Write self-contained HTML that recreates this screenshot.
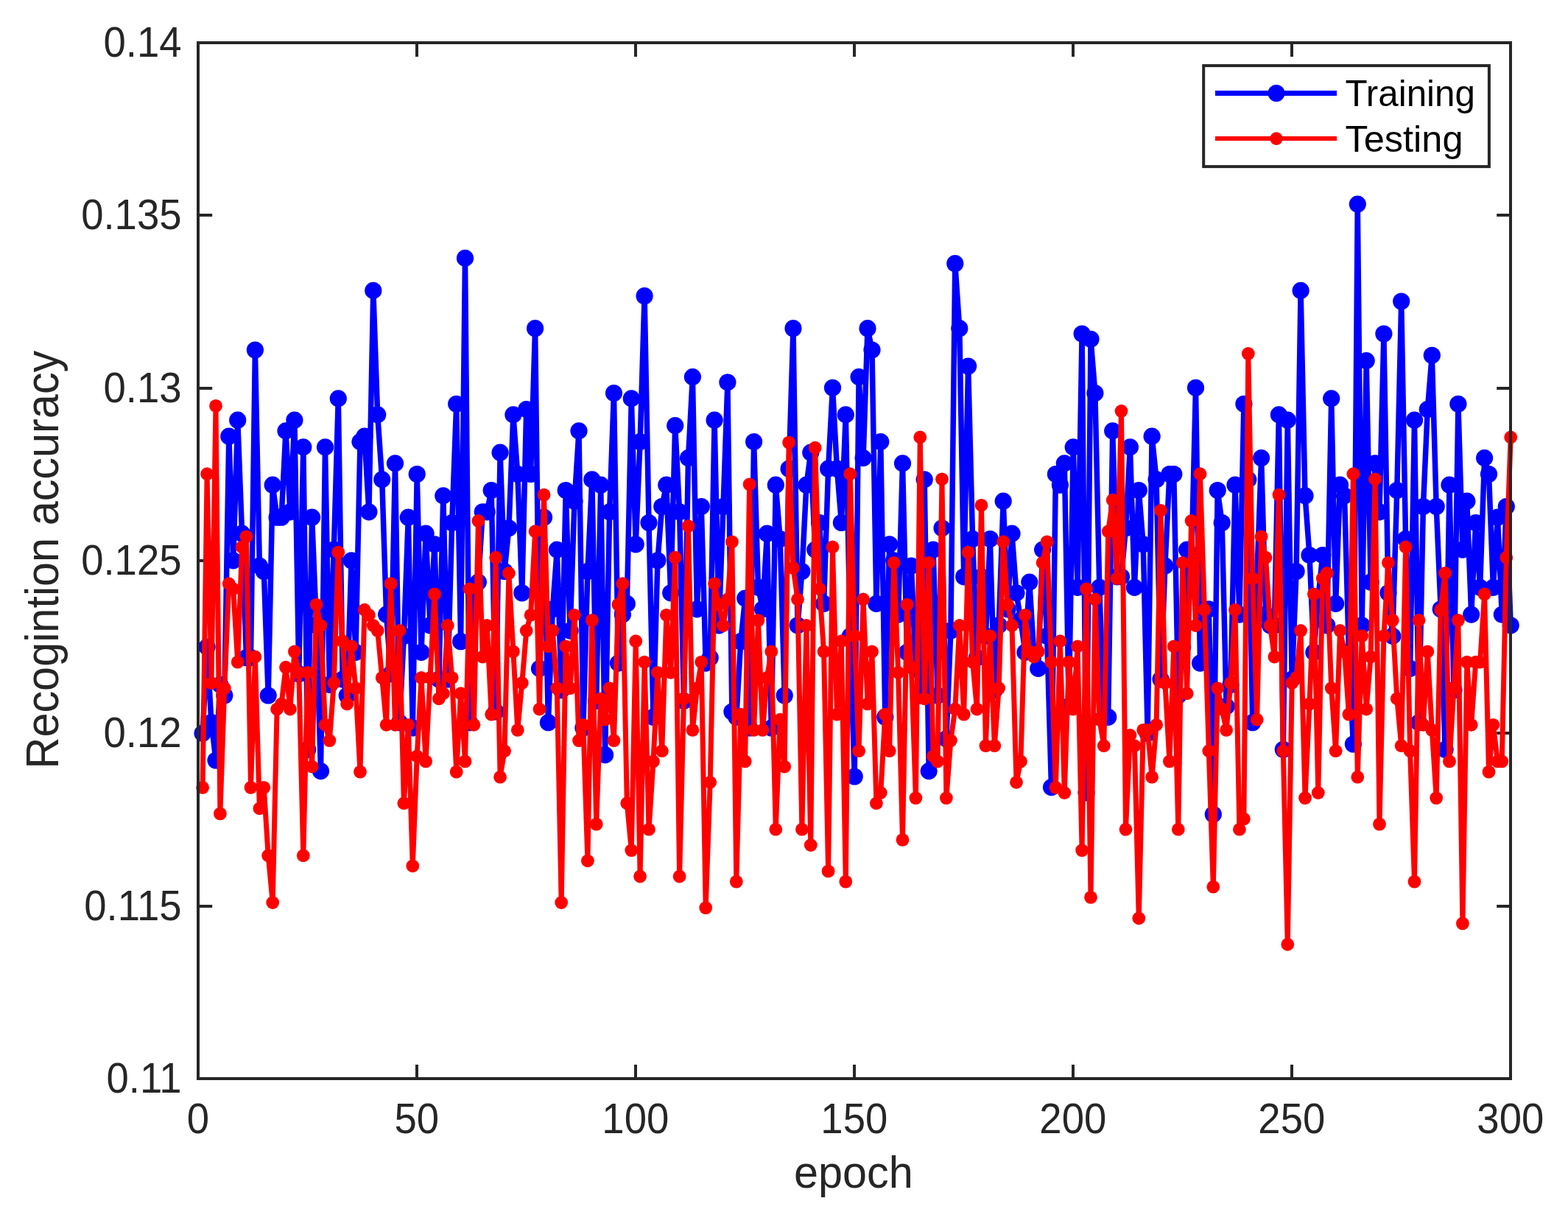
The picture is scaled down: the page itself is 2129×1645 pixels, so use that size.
<!DOCTYPE html>
<html lang="en"><head><meta charset="utf-8"><title>Recognition accuracy vs epoch</title>
<style>html,body{margin:0;padding:0;background:#fff}body{width:2129px;height:1645px;overflow:hidden}svg{display:block}text{font-family:"Liberation Sans",Arial,Helvetica,sans-serif}</style></head><body>
<svg width="2129" height="1645" viewBox="0 0 2129 1645">
<rect x="0" y="0" width="2129" height="1645" fill="#fff"/>
<path d="M566.0 1464.0v-19.0M566.0 58.1v19.0M863.0 1464.0v-19.0M863.0 58.1v19.0M1160.0 1464.0v-19.0M1160.0 58.1v19.0M1457.0 1464.0v-19.0M1457.0 58.1v19.0M1754.0 1464.0v-19.0M1754.0 58.1v19.0M269.2 1230.0h19.0M2051.2 1230.0h-19.0M269.2 995.0h19.0M2051.2 995.0h-19.0M269.2 761.0h19.0M2051.2 761.0h-19.0M269.2 527.0h19.0M2051.2 527.0h-19.0M269.2 292.0h19.0M2051.2 292.0h-19.0" stroke="#262626" stroke-width="4" fill="none"/>
<g><polyline points="275.1,995.3 281.1,878.1 287.0,980.7 293.0,1032.0 298.9,929.4 304.8,944.0 310.8,592.2 316.7,760.8 322.7,570.2 328.6,724.2 334.5,892.7 340.5,892.7 346.4,475.0 352.4,768.1 358.3,775.5 364.2,944.0 370.2,658.2 376.1,702.2 382.1,702.2 388.0,584.9 393.9,694.8 399.9,570.2 405.8,914.7 411.8,606.9 417.7,1017.3 423.6,702.2 429.6,848.8 435.5,1046.6 441.5,606.9 447.4,929.4 453.3,746.1 459.3,540.9 465.2,922.0 471.2,944.0 477.1,760.8 483.0,885.4 489.0,599.6 494.9,592.2 500.9,694.8 506.8,394.4 512.7,562.9 518.7,650.9 524.6,834.1 530.6,914.7 536.5,628.9 542.4,980.7 548.4,863.4 554.3,702.2 560.3,988.0 566.2,643.5 572.1,885.4 578.1,724.2 584.0,848.8 590.0,738.8 595.9,922.0 601.8,672.9 607.8,922.0 613.7,709.5 619.7,548.3 625.6,870.7 631.5,350.4 637.5,980.7 643.4,804.8 649.4,790.1 655.3,694.8 661.2,694.8 667.2,665.5 673.1,966.0 679.1,614.2 685.0,775.5 690.9,716.8 696.9,562.9 702.8,643.5 708.8,804.8 714.7,555.6 720.6,643.5 726.6,445.7 732.5,907.4 738.5,702.2 744.4,980.7 750.3,826.8 756.3,746.1 762.2,936.7 768.2,665.5 774.1,856.1 780.0,680.2 786.0,584.9 791.9,988.0 797.9,775.5 803.8,650.9 809.7,951.4 815.7,658.2 821.6,1024.6 827.6,694.8 833.5,533.6 839.4,900.1 845.4,834.1 851.3,819.4 857.3,540.9 863.2,738.8 869.1,599.6 875.1,401.7 881.0,709.5 887.0,973.3 892.9,760.8 898.8,687.5 904.8,658.2 910.7,804.8 916.7,577.6 922.6,694.8 928.5,951.4 934.5,621.6 940.4,511.6 946.4,826.8 952.3,687.5 958.2,900.1 964.2,892.7 970.1,570.2 976.1,848.8 982.0,687.5 987.9,518.9 993.9,966.0 999.8,973.3 1005.8,870.7 1011.7,812.1 1017.6,988.0 1023.6,599.6 1029.5,797.4 1035.5,826.8 1041.4,724.2 1047.3,988.0 1053.3,658.2 1059.2,731.5 1065.2,944.0 1071.1,636.2 1077.0,445.7 1083.0,848.8 1088.9,775.5 1094.9,658.2 1100.8,614.2 1106.7,746.1 1112.7,709.5 1118.6,819.4 1124.6,636.2 1130.5,526.3 1136.4,636.2 1142.4,709.5 1148.3,562.9 1154.3,863.4 1160.2,1054.0 1166.1,511.6 1172.1,621.6 1178.0,445.7 1184.0,475.0 1189.9,819.4 1195.8,599.6 1201.8,973.3 1207.7,738.8 1213.7,760.8 1219.6,834.1 1225.5,628.9 1231.5,885.4 1237.4,768.1 1243.4,907.4 1249.3,944.0 1255.2,650.9 1261.2,1046.6 1267.1,746.1 1273.1,944.0 1279.0,716.8 1284.9,1002.7 1290.9,856.1 1296.8,357.7 1302.8,445.7 1308.7,782.8 1314.6,497.0 1320.6,731.5 1326.5,892.7 1332.5,782.8 1338.4,863.4 1344.3,731.5 1350.3,936.7 1356.2,848.8 1362.2,680.2 1368.1,826.8 1374.0,724.2 1380.0,804.8 1385.9,841.4 1391.9,885.4 1397.8,790.1 1403.7,885.4 1409.7,907.4 1415.6,746.1 1421.6,863.4 1427.5,1068.6 1433.4,643.5 1439.4,658.2 1445.3,628.9 1451.3,958.7 1457.2,606.9 1463.1,797.4 1469.1,453.0 1475.0,1076.0 1481.0,460.3 1486.9,533.6 1492.8,797.4 1498.8,973.3 1504.7,973.3 1510.7,584.9 1516.6,782.8 1522.5,782.8 1528.5,716.8 1534.4,606.9 1540.4,797.4 1546.3,665.5 1552.2,738.8 1558.2,995.3 1564.1,592.2 1570.1,650.9 1576.0,922.0 1581.9,768.1 1587.9,643.5 1593.8,643.5 1599.8,944.0 1605.7,878.1 1611.6,746.1 1617.6,768.1 1623.5,526.3 1629.5,900.1 1635.4,826.8 1641.3,826.8 1647.3,1105.3 1653.2,665.5 1659.2,709.5 1665.1,958.7 1671.0,929.4 1677.0,658.2 1682.9,834.1 1688.9,548.3 1694.8,650.9 1700.7,980.7 1706.7,782.8 1712.6,621.6 1718.6,834.1 1724.5,848.8 1730.4,848.8 1736.4,562.9 1742.3,1017.3 1748.3,570.2 1754.2,922.0 1760.1,775.5 1766.1,394.4 1772.0,672.9 1778.0,753.5 1783.9,885.4 1789.8,812.1 1795.8,753.5 1801.7,848.8 1807.7,540.9 1813.6,819.4 1819.5,658.2 1825.5,672.9 1831.4,885.4 1837.4,1010.0 1843.3,277.1 1849.2,848.8 1855.2,489.6 1861.1,790.1 1867.1,628.9 1873.0,694.8 1878.9,453.0 1884.9,804.8 1890.8,863.4 1896.8,665.5 1902.7,409.0 1908.6,731.5 1914.6,907.4 1920.5,570.2 1926.5,980.7 1932.4,687.5 1938.3,555.6 1944.3,482.3 1950.2,687.5 1956.2,826.8 1962.1,1017.3 1968.0,658.2 1974.0,936.7 1979.9,548.3 1985.9,746.1 1991.8,680.2 1997.7,834.1 2003.7,709.5 2009.6,797.4 2015.6,621.6 2021.5,643.5 2027.4,797.4 2033.4,702.2 2039.3,834.1 2045.3,687.5 2051.2,848.8" fill="none" stroke="#0000ff" stroke-width="7.5" stroke-linejoin="round" stroke-linecap="butt"/>
<circle cx="275.1" cy="995.3" r="11.6" fill="#0000ff"/>
<circle cx="281.1" cy="878.1" r="11.6" fill="#0000ff"/>
<circle cx="287.0" cy="980.7" r="11.6" fill="#0000ff"/>
<circle cx="293.0" cy="1032.0" r="11.6" fill="#0000ff"/>
<circle cx="298.9" cy="929.4" r="11.6" fill="#0000ff"/>
<circle cx="304.8" cy="944.0" r="11.6" fill="#0000ff"/>
<circle cx="310.8" cy="592.2" r="11.6" fill="#0000ff"/>
<circle cx="316.7" cy="760.8" r="11.6" fill="#0000ff"/>
<circle cx="322.7" cy="570.2" r="11.6" fill="#0000ff"/>
<circle cx="328.6" cy="724.2" r="11.6" fill="#0000ff"/>
<circle cx="334.5" cy="892.7" r="11.6" fill="#0000ff"/>
<circle cx="340.5" cy="892.7" r="11.6" fill="#0000ff"/>
<circle cx="346.4" cy="475.0" r="11.6" fill="#0000ff"/>
<circle cx="352.4" cy="768.1" r="11.6" fill="#0000ff"/>
<circle cx="358.3" cy="775.5" r="11.6" fill="#0000ff"/>
<circle cx="364.2" cy="944.0" r="11.6" fill="#0000ff"/>
<circle cx="370.2" cy="658.2" r="11.6" fill="#0000ff"/>
<circle cx="376.1" cy="702.2" r="11.6" fill="#0000ff"/>
<circle cx="382.1" cy="702.2" r="11.6" fill="#0000ff"/>
<circle cx="388.0" cy="584.9" r="11.6" fill="#0000ff"/>
<circle cx="393.9" cy="694.8" r="11.6" fill="#0000ff"/>
<circle cx="399.9" cy="570.2" r="11.6" fill="#0000ff"/>
<circle cx="405.8" cy="914.7" r="11.6" fill="#0000ff"/>
<circle cx="411.8" cy="606.9" r="11.6" fill="#0000ff"/>
<circle cx="417.7" cy="1017.3" r="11.6" fill="#0000ff"/>
<circle cx="423.6" cy="702.2" r="11.6" fill="#0000ff"/>
<circle cx="429.6" cy="848.8" r="11.6" fill="#0000ff"/>
<circle cx="435.5" cy="1046.6" r="11.6" fill="#0000ff"/>
<circle cx="441.5" cy="606.9" r="11.6" fill="#0000ff"/>
<circle cx="447.4" cy="929.4" r="11.6" fill="#0000ff"/>
<circle cx="453.3" cy="746.1" r="11.6" fill="#0000ff"/>
<circle cx="459.3" cy="540.9" r="11.6" fill="#0000ff"/>
<circle cx="465.2" cy="922.0" r="11.6" fill="#0000ff"/>
<circle cx="471.2" cy="944.0" r="11.6" fill="#0000ff"/>
<circle cx="477.1" cy="760.8" r="11.6" fill="#0000ff"/>
<circle cx="483.0" cy="885.4" r="11.6" fill="#0000ff"/>
<circle cx="489.0" cy="599.6" r="11.6" fill="#0000ff"/>
<circle cx="494.9" cy="592.2" r="11.6" fill="#0000ff"/>
<circle cx="500.9" cy="694.8" r="11.6" fill="#0000ff"/>
<circle cx="506.8" cy="394.4" r="11.6" fill="#0000ff"/>
<circle cx="512.7" cy="562.9" r="11.6" fill="#0000ff"/>
<circle cx="518.7" cy="650.9" r="11.6" fill="#0000ff"/>
<circle cx="524.6" cy="834.1" r="11.6" fill="#0000ff"/>
<circle cx="530.6" cy="914.7" r="11.6" fill="#0000ff"/>
<circle cx="536.5" cy="628.9" r="11.6" fill="#0000ff"/>
<circle cx="542.4" cy="980.7" r="11.6" fill="#0000ff"/>
<circle cx="548.4" cy="863.4" r="11.6" fill="#0000ff"/>
<circle cx="554.3" cy="702.2" r="11.6" fill="#0000ff"/>
<circle cx="560.3" cy="988.0" r="11.6" fill="#0000ff"/>
<circle cx="566.2" cy="643.5" r="11.6" fill="#0000ff"/>
<circle cx="572.1" cy="885.4" r="11.6" fill="#0000ff"/>
<circle cx="578.1" cy="724.2" r="11.6" fill="#0000ff"/>
<circle cx="584.0" cy="848.8" r="11.6" fill="#0000ff"/>
<circle cx="590.0" cy="738.8" r="11.6" fill="#0000ff"/>
<circle cx="595.9" cy="922.0" r="11.6" fill="#0000ff"/>
<circle cx="601.8" cy="672.9" r="11.6" fill="#0000ff"/>
<circle cx="607.8" cy="922.0" r="11.6" fill="#0000ff"/>
<circle cx="613.7" cy="709.5" r="11.6" fill="#0000ff"/>
<circle cx="619.7" cy="548.3" r="11.6" fill="#0000ff"/>
<circle cx="625.6" cy="870.7" r="11.6" fill="#0000ff"/>
<circle cx="631.5" cy="350.4" r="11.6" fill="#0000ff"/>
<circle cx="637.5" cy="980.7" r="11.6" fill="#0000ff"/>
<circle cx="643.4" cy="804.8" r="11.6" fill="#0000ff"/>
<circle cx="649.4" cy="790.1" r="11.6" fill="#0000ff"/>
<circle cx="655.3" cy="694.8" r="11.6" fill="#0000ff"/>
<circle cx="661.2" cy="694.8" r="11.6" fill="#0000ff"/>
<circle cx="667.2" cy="665.5" r="11.6" fill="#0000ff"/>
<circle cx="673.1" cy="966.0" r="11.6" fill="#0000ff"/>
<circle cx="679.1" cy="614.2" r="11.6" fill="#0000ff"/>
<circle cx="685.0" cy="775.5" r="11.6" fill="#0000ff"/>
<circle cx="690.9" cy="716.8" r="11.6" fill="#0000ff"/>
<circle cx="696.9" cy="562.9" r="11.6" fill="#0000ff"/>
<circle cx="702.8" cy="643.5" r="11.6" fill="#0000ff"/>
<circle cx="708.8" cy="804.8" r="11.6" fill="#0000ff"/>
<circle cx="714.7" cy="555.6" r="11.6" fill="#0000ff"/>
<circle cx="720.6" cy="643.5" r="11.6" fill="#0000ff"/>
<circle cx="726.6" cy="445.7" r="11.6" fill="#0000ff"/>
<circle cx="732.5" cy="907.4" r="11.6" fill="#0000ff"/>
<circle cx="738.5" cy="702.2" r="11.6" fill="#0000ff"/>
<circle cx="744.4" cy="980.7" r="11.6" fill="#0000ff"/>
<circle cx="750.3" cy="826.8" r="11.6" fill="#0000ff"/>
<circle cx="756.3" cy="746.1" r="11.6" fill="#0000ff"/>
<circle cx="762.2" cy="936.7" r="11.6" fill="#0000ff"/>
<circle cx="768.2" cy="665.5" r="11.6" fill="#0000ff"/>
<circle cx="774.1" cy="856.1" r="11.6" fill="#0000ff"/>
<circle cx="780.0" cy="680.2" r="11.6" fill="#0000ff"/>
<circle cx="786.0" cy="584.9" r="11.6" fill="#0000ff"/>
<circle cx="791.9" cy="988.0" r="11.6" fill="#0000ff"/>
<circle cx="797.9" cy="775.5" r="11.6" fill="#0000ff"/>
<circle cx="803.8" cy="650.9" r="11.6" fill="#0000ff"/>
<circle cx="809.7" cy="951.4" r="11.6" fill="#0000ff"/>
<circle cx="815.7" cy="658.2" r="11.6" fill="#0000ff"/>
<circle cx="821.6" cy="1024.6" r="11.6" fill="#0000ff"/>
<circle cx="827.6" cy="694.8" r="11.6" fill="#0000ff"/>
<circle cx="833.5" cy="533.6" r="11.6" fill="#0000ff"/>
<circle cx="839.4" cy="900.1" r="11.6" fill="#0000ff"/>
<circle cx="845.4" cy="834.1" r="11.6" fill="#0000ff"/>
<circle cx="851.3" cy="819.4" r="11.6" fill="#0000ff"/>
<circle cx="857.3" cy="540.9" r="11.6" fill="#0000ff"/>
<circle cx="863.2" cy="738.8" r="11.6" fill="#0000ff"/>
<circle cx="869.1" cy="599.6" r="11.6" fill="#0000ff"/>
<circle cx="875.1" cy="401.7" r="11.6" fill="#0000ff"/>
<circle cx="881.0" cy="709.5" r="11.6" fill="#0000ff"/>
<circle cx="887.0" cy="973.3" r="11.6" fill="#0000ff"/>
<circle cx="892.9" cy="760.8" r="11.6" fill="#0000ff"/>
<circle cx="898.8" cy="687.5" r="11.6" fill="#0000ff"/>
<circle cx="904.8" cy="658.2" r="11.6" fill="#0000ff"/>
<circle cx="910.7" cy="804.8" r="11.6" fill="#0000ff"/>
<circle cx="916.7" cy="577.6" r="11.6" fill="#0000ff"/>
<circle cx="922.6" cy="694.8" r="11.6" fill="#0000ff"/>
<circle cx="928.5" cy="951.4" r="11.6" fill="#0000ff"/>
<circle cx="934.5" cy="621.6" r="11.6" fill="#0000ff"/>
<circle cx="940.4" cy="511.6" r="11.6" fill="#0000ff"/>
<circle cx="946.4" cy="826.8" r="11.6" fill="#0000ff"/>
<circle cx="952.3" cy="687.5" r="11.6" fill="#0000ff"/>
<circle cx="958.2" cy="900.1" r="11.6" fill="#0000ff"/>
<circle cx="964.2" cy="892.7" r="11.6" fill="#0000ff"/>
<circle cx="970.1" cy="570.2" r="11.6" fill="#0000ff"/>
<circle cx="976.1" cy="848.8" r="11.6" fill="#0000ff"/>
<circle cx="982.0" cy="687.5" r="11.6" fill="#0000ff"/>
<circle cx="987.9" cy="518.9" r="11.6" fill="#0000ff"/>
<circle cx="993.9" cy="966.0" r="11.6" fill="#0000ff"/>
<circle cx="999.8" cy="973.3" r="11.6" fill="#0000ff"/>
<circle cx="1005.8" cy="870.7" r="11.6" fill="#0000ff"/>
<circle cx="1011.7" cy="812.1" r="11.6" fill="#0000ff"/>
<circle cx="1017.6" cy="988.0" r="11.6" fill="#0000ff"/>
<circle cx="1023.6" cy="599.6" r="11.6" fill="#0000ff"/>
<circle cx="1029.5" cy="797.4" r="11.6" fill="#0000ff"/>
<circle cx="1035.5" cy="826.8" r="11.6" fill="#0000ff"/>
<circle cx="1041.4" cy="724.2" r="11.6" fill="#0000ff"/>
<circle cx="1047.3" cy="988.0" r="11.6" fill="#0000ff"/>
<circle cx="1053.3" cy="658.2" r="11.6" fill="#0000ff"/>
<circle cx="1059.2" cy="731.5" r="11.6" fill="#0000ff"/>
<circle cx="1065.2" cy="944.0" r="11.6" fill="#0000ff"/>
<circle cx="1071.1" cy="636.2" r="11.6" fill="#0000ff"/>
<circle cx="1077.0" cy="445.7" r="11.6" fill="#0000ff"/>
<circle cx="1083.0" cy="848.8" r="11.6" fill="#0000ff"/>
<circle cx="1088.9" cy="775.5" r="11.6" fill="#0000ff"/>
<circle cx="1094.9" cy="658.2" r="11.6" fill="#0000ff"/>
<circle cx="1100.8" cy="614.2" r="11.6" fill="#0000ff"/>
<circle cx="1106.7" cy="746.1" r="11.6" fill="#0000ff"/>
<circle cx="1112.7" cy="709.5" r="11.6" fill="#0000ff"/>
<circle cx="1118.6" cy="819.4" r="11.6" fill="#0000ff"/>
<circle cx="1124.6" cy="636.2" r="11.6" fill="#0000ff"/>
<circle cx="1130.5" cy="526.3" r="11.6" fill="#0000ff"/>
<circle cx="1136.4" cy="636.2" r="11.6" fill="#0000ff"/>
<circle cx="1142.4" cy="709.5" r="11.6" fill="#0000ff"/>
<circle cx="1148.3" cy="562.9" r="11.6" fill="#0000ff"/>
<circle cx="1154.3" cy="863.4" r="11.6" fill="#0000ff"/>
<circle cx="1160.2" cy="1054.0" r="11.6" fill="#0000ff"/>
<circle cx="1166.1" cy="511.6" r="11.6" fill="#0000ff"/>
<circle cx="1172.1" cy="621.6" r="11.6" fill="#0000ff"/>
<circle cx="1178.0" cy="445.7" r="11.6" fill="#0000ff"/>
<circle cx="1184.0" cy="475.0" r="11.6" fill="#0000ff"/>
<circle cx="1189.9" cy="819.4" r="11.6" fill="#0000ff"/>
<circle cx="1195.8" cy="599.6" r="11.6" fill="#0000ff"/>
<circle cx="1201.8" cy="973.3" r="11.6" fill="#0000ff"/>
<circle cx="1207.7" cy="738.8" r="11.6" fill="#0000ff"/>
<circle cx="1213.7" cy="760.8" r="11.6" fill="#0000ff"/>
<circle cx="1219.6" cy="834.1" r="11.6" fill="#0000ff"/>
<circle cx="1225.5" cy="628.9" r="11.6" fill="#0000ff"/>
<circle cx="1231.5" cy="885.4" r="11.6" fill="#0000ff"/>
<circle cx="1237.4" cy="768.1" r="11.6" fill="#0000ff"/>
<circle cx="1243.4" cy="907.4" r="11.6" fill="#0000ff"/>
<circle cx="1249.3" cy="944.0" r="11.6" fill="#0000ff"/>
<circle cx="1255.2" cy="650.9" r="11.6" fill="#0000ff"/>
<circle cx="1261.2" cy="1046.6" r="11.6" fill="#0000ff"/>
<circle cx="1267.1" cy="746.1" r="11.6" fill="#0000ff"/>
<circle cx="1273.1" cy="944.0" r="11.6" fill="#0000ff"/>
<circle cx="1279.0" cy="716.8" r="11.6" fill="#0000ff"/>
<circle cx="1284.9" cy="1002.7" r="11.6" fill="#0000ff"/>
<circle cx="1290.9" cy="856.1" r="11.6" fill="#0000ff"/>
<circle cx="1296.8" cy="357.7" r="11.6" fill="#0000ff"/>
<circle cx="1302.8" cy="445.7" r="11.6" fill="#0000ff"/>
<circle cx="1308.7" cy="782.8" r="11.6" fill="#0000ff"/>
<circle cx="1314.6" cy="497.0" r="11.6" fill="#0000ff"/>
<circle cx="1320.6" cy="731.5" r="11.6" fill="#0000ff"/>
<circle cx="1326.5" cy="892.7" r="11.6" fill="#0000ff"/>
<circle cx="1332.5" cy="782.8" r="11.6" fill="#0000ff"/>
<circle cx="1338.4" cy="863.4" r="11.6" fill="#0000ff"/>
<circle cx="1344.3" cy="731.5" r="11.6" fill="#0000ff"/>
<circle cx="1350.3" cy="936.7" r="11.6" fill="#0000ff"/>
<circle cx="1356.2" cy="848.8" r="11.6" fill="#0000ff"/>
<circle cx="1362.2" cy="680.2" r="11.6" fill="#0000ff"/>
<circle cx="1368.1" cy="826.8" r="11.6" fill="#0000ff"/>
<circle cx="1374.0" cy="724.2" r="11.6" fill="#0000ff"/>
<circle cx="1380.0" cy="804.8" r="11.6" fill="#0000ff"/>
<circle cx="1385.9" cy="841.4" r="11.6" fill="#0000ff"/>
<circle cx="1391.9" cy="885.4" r="11.6" fill="#0000ff"/>
<circle cx="1397.8" cy="790.1" r="11.6" fill="#0000ff"/>
<circle cx="1403.7" cy="885.4" r="11.6" fill="#0000ff"/>
<circle cx="1409.7" cy="907.4" r="11.6" fill="#0000ff"/>
<circle cx="1415.6" cy="746.1" r="11.6" fill="#0000ff"/>
<circle cx="1421.6" cy="863.4" r="11.6" fill="#0000ff"/>
<circle cx="1427.5" cy="1068.6" r="11.6" fill="#0000ff"/>
<circle cx="1433.4" cy="643.5" r="11.6" fill="#0000ff"/>
<circle cx="1439.4" cy="658.2" r="11.6" fill="#0000ff"/>
<circle cx="1445.3" cy="628.9" r="11.6" fill="#0000ff"/>
<circle cx="1451.3" cy="958.7" r="11.6" fill="#0000ff"/>
<circle cx="1457.2" cy="606.9" r="11.6" fill="#0000ff"/>
<circle cx="1463.1" cy="797.4" r="11.6" fill="#0000ff"/>
<circle cx="1469.1" cy="453.0" r="11.6" fill="#0000ff"/>
<circle cx="1475.0" cy="1076.0" r="11.6" fill="#0000ff"/>
<circle cx="1481.0" cy="460.3" r="11.6" fill="#0000ff"/>
<circle cx="1486.9" cy="533.6" r="11.6" fill="#0000ff"/>
<circle cx="1492.8" cy="797.4" r="11.6" fill="#0000ff"/>
<circle cx="1498.8" cy="973.3" r="11.6" fill="#0000ff"/>
<circle cx="1504.7" cy="973.3" r="11.6" fill="#0000ff"/>
<circle cx="1510.7" cy="584.9" r="11.6" fill="#0000ff"/>
<circle cx="1516.6" cy="782.8" r="11.6" fill="#0000ff"/>
<circle cx="1522.5" cy="782.8" r="11.6" fill="#0000ff"/>
<circle cx="1528.5" cy="716.8" r="11.6" fill="#0000ff"/>
<circle cx="1534.4" cy="606.9" r="11.6" fill="#0000ff"/>
<circle cx="1540.4" cy="797.4" r="11.6" fill="#0000ff"/>
<circle cx="1546.3" cy="665.5" r="11.6" fill="#0000ff"/>
<circle cx="1552.2" cy="738.8" r="11.6" fill="#0000ff"/>
<circle cx="1558.2" cy="995.3" r="11.6" fill="#0000ff"/>
<circle cx="1564.1" cy="592.2" r="11.6" fill="#0000ff"/>
<circle cx="1570.1" cy="650.9" r="11.6" fill="#0000ff"/>
<circle cx="1576.0" cy="922.0" r="11.6" fill="#0000ff"/>
<circle cx="1581.9" cy="768.1" r="11.6" fill="#0000ff"/>
<circle cx="1587.9" cy="643.5" r="11.6" fill="#0000ff"/>
<circle cx="1593.8" cy="643.5" r="11.6" fill="#0000ff"/>
<circle cx="1599.8" cy="944.0" r="11.6" fill="#0000ff"/>
<circle cx="1605.7" cy="878.1" r="11.6" fill="#0000ff"/>
<circle cx="1611.6" cy="746.1" r="11.6" fill="#0000ff"/>
<circle cx="1617.6" cy="768.1" r="11.6" fill="#0000ff"/>
<circle cx="1623.5" cy="526.3" r="11.6" fill="#0000ff"/>
<circle cx="1629.5" cy="900.1" r="11.6" fill="#0000ff"/>
<circle cx="1635.4" cy="826.8" r="11.6" fill="#0000ff"/>
<circle cx="1641.3" cy="826.8" r="11.6" fill="#0000ff"/>
<circle cx="1647.3" cy="1105.3" r="11.6" fill="#0000ff"/>
<circle cx="1653.2" cy="665.5" r="11.6" fill="#0000ff"/>
<circle cx="1659.2" cy="709.5" r="11.6" fill="#0000ff"/>
<circle cx="1665.1" cy="958.7" r="11.6" fill="#0000ff"/>
<circle cx="1671.0" cy="929.4" r="11.6" fill="#0000ff"/>
<circle cx="1677.0" cy="658.2" r="11.6" fill="#0000ff"/>
<circle cx="1682.9" cy="834.1" r="11.6" fill="#0000ff"/>
<circle cx="1688.9" cy="548.3" r="11.6" fill="#0000ff"/>
<circle cx="1694.8" cy="650.9" r="11.6" fill="#0000ff"/>
<circle cx="1700.7" cy="980.7" r="11.6" fill="#0000ff"/>
<circle cx="1706.7" cy="782.8" r="11.6" fill="#0000ff"/>
<circle cx="1712.6" cy="621.6" r="11.6" fill="#0000ff"/>
<circle cx="1718.6" cy="834.1" r="11.6" fill="#0000ff"/>
<circle cx="1724.5" cy="848.8" r="11.6" fill="#0000ff"/>
<circle cx="1730.4" cy="848.8" r="11.6" fill="#0000ff"/>
<circle cx="1736.4" cy="562.9" r="11.6" fill="#0000ff"/>
<circle cx="1742.3" cy="1017.3" r="11.6" fill="#0000ff"/>
<circle cx="1748.3" cy="570.2" r="11.6" fill="#0000ff"/>
<circle cx="1754.2" cy="922.0" r="11.6" fill="#0000ff"/>
<circle cx="1760.1" cy="775.5" r="11.6" fill="#0000ff"/>
<circle cx="1766.1" cy="394.4" r="11.6" fill="#0000ff"/>
<circle cx="1772.0" cy="672.9" r="11.6" fill="#0000ff"/>
<circle cx="1778.0" cy="753.5" r="11.6" fill="#0000ff"/>
<circle cx="1783.9" cy="885.4" r="11.6" fill="#0000ff"/>
<circle cx="1789.8" cy="812.1" r="11.6" fill="#0000ff"/>
<circle cx="1795.8" cy="753.5" r="11.6" fill="#0000ff"/>
<circle cx="1801.7" cy="848.8" r="11.6" fill="#0000ff"/>
<circle cx="1807.7" cy="540.9" r="11.6" fill="#0000ff"/>
<circle cx="1813.6" cy="819.4" r="11.6" fill="#0000ff"/>
<circle cx="1819.5" cy="658.2" r="11.6" fill="#0000ff"/>
<circle cx="1825.5" cy="672.9" r="11.6" fill="#0000ff"/>
<circle cx="1831.4" cy="885.4" r="11.6" fill="#0000ff"/>
<circle cx="1837.4" cy="1010.0" r="11.6" fill="#0000ff"/>
<circle cx="1843.3" cy="277.1" r="11.6" fill="#0000ff"/>
<circle cx="1849.2" cy="848.8" r="11.6" fill="#0000ff"/>
<circle cx="1855.2" cy="489.6" r="11.6" fill="#0000ff"/>
<circle cx="1861.1" cy="790.1" r="11.6" fill="#0000ff"/>
<circle cx="1867.1" cy="628.9" r="11.6" fill="#0000ff"/>
<circle cx="1873.0" cy="694.8" r="11.6" fill="#0000ff"/>
<circle cx="1878.9" cy="453.0" r="11.6" fill="#0000ff"/>
<circle cx="1884.9" cy="804.8" r="11.6" fill="#0000ff"/>
<circle cx="1890.8" cy="863.4" r="11.6" fill="#0000ff"/>
<circle cx="1896.8" cy="665.5" r="11.6" fill="#0000ff"/>
<circle cx="1902.7" cy="409.0" r="11.6" fill="#0000ff"/>
<circle cx="1908.6" cy="731.5" r="11.6" fill="#0000ff"/>
<circle cx="1914.6" cy="907.4" r="11.6" fill="#0000ff"/>
<circle cx="1920.5" cy="570.2" r="11.6" fill="#0000ff"/>
<circle cx="1926.5" cy="980.7" r="11.6" fill="#0000ff"/>
<circle cx="1932.4" cy="687.5" r="11.6" fill="#0000ff"/>
<circle cx="1938.3" cy="555.6" r="11.6" fill="#0000ff"/>
<circle cx="1944.3" cy="482.3" r="11.6" fill="#0000ff"/>
<circle cx="1950.2" cy="687.5" r="11.6" fill="#0000ff"/>
<circle cx="1956.2" cy="826.8" r="11.6" fill="#0000ff"/>
<circle cx="1962.1" cy="1017.3" r="11.6" fill="#0000ff"/>
<circle cx="1968.0" cy="658.2" r="11.6" fill="#0000ff"/>
<circle cx="1974.0" cy="936.7" r="11.6" fill="#0000ff"/>
<circle cx="1979.9" cy="548.3" r="11.6" fill="#0000ff"/>
<circle cx="1985.9" cy="746.1" r="11.6" fill="#0000ff"/>
<circle cx="1991.8" cy="680.2" r="11.6" fill="#0000ff"/>
<circle cx="1997.7" cy="834.1" r="11.6" fill="#0000ff"/>
<circle cx="2003.7" cy="709.5" r="11.6" fill="#0000ff"/>
<circle cx="2009.6" cy="797.4" r="11.6" fill="#0000ff"/>
<circle cx="2015.6" cy="621.6" r="11.6" fill="#0000ff"/>
<circle cx="2021.5" cy="643.5" r="11.6" fill="#0000ff"/>
<circle cx="2027.4" cy="797.4" r="11.6" fill="#0000ff"/>
<circle cx="2033.4" cy="702.2" r="11.6" fill="#0000ff"/>
<circle cx="2039.3" cy="834.1" r="11.6" fill="#0000ff"/>
<circle cx="2045.3" cy="687.5" r="11.6" fill="#0000ff"/>
<circle cx="2051.2" cy="848.8" r="11.6" fill="#0000ff"/>
</g>
<g><polyline points="275.1,1068.9 281.1,643.2 287.0,927.0 293.0,550.9 298.9,1104.4 304.8,934.1 310.8,792.2 316.7,799.3 322.7,898.6 328.6,742.5 334.5,728.3 340.5,1068.9 346.4,891.5 352.4,1097.3 358.3,1068.9 364.2,1161.2 370.2,1225.0 376.1,962.5 382.1,955.4 388.0,905.7 393.9,962.5 399.9,884.4 405.8,912.8 411.8,1161.2 417.7,912.8 423.6,1040.5 429.6,820.6 435.5,849.0 441.5,983.8 447.4,1005.1 453.3,927.0 459.3,749.6 465.2,870.2 471.2,955.4 477.1,877.3 483.0,934.1 489.0,1047.6 494.9,827.7 500.9,834.8 506.8,849.0 512.7,856.0 518.7,919.9 524.6,983.8 530.6,792.2 536.5,983.8 542.4,856.0 548.4,1090.2 554.3,983.8 560.3,1175.3 566.2,1026.3 572.1,919.9 578.1,1033.4 584.0,919.9 590.0,806.4 595.9,948.3 601.8,941.2 607.8,849.0 613.7,919.9 619.7,1047.6 625.6,941.2 631.5,1033.4 637.5,799.3 643.4,983.8 649.4,707.0 655.3,891.5 661.2,849.0 667.2,969.6 673.1,756.7 679.1,1054.7 685.0,1019.2 690.9,778.0 696.9,884.4 702.8,990.9 708.8,927.0 714.7,856.0 720.6,834.8 726.6,721.2 732.5,962.5 738.5,671.6 744.4,877.3 750.3,856.0 756.3,934.1 762.2,1225.0 768.2,877.3 774.1,934.1 780.0,834.8 786.0,1005.1 791.9,983.8 797.9,1168.3 803.8,841.9 809.7,1118.6 815.7,948.3 821.6,976.7 827.6,934.1 833.5,1005.1 839.4,820.6 845.4,792.2 851.3,1090.2 857.3,1154.1 863.2,870.2 869.1,1189.5 875.1,898.6 881.0,1125.7 887.0,1033.4 892.9,912.8 898.8,1019.2 904.8,834.8 910.7,912.8 916.7,756.7 922.6,1189.5 928.5,948.3 934.5,714.1 940.4,990.9 946.4,934.1 952.3,898.6 958.2,1232.1 964.2,1061.8 970.1,792.2 976.1,820.6 982.0,849.0 987.9,813.5 993.9,735.4 999.8,1196.6 1005.8,969.6 1011.7,1033.4 1017.6,657.4 1023.6,990.9 1029.5,841.9 1035.5,990.9 1041.4,919.9 1047.3,884.4 1053.3,1125.7 1059.2,976.7 1065.2,1040.5 1071.1,600.6 1077.0,770.9 1083.0,813.5 1088.9,1125.7 1094.9,849.0 1100.8,1147.0 1106.7,607.7 1112.7,799.3 1118.6,884.4 1124.6,1182.4 1130.5,742.5 1136.4,969.6 1142.4,870.2 1148.3,1196.6 1154.3,643.2 1160.2,863.1 1166.1,1019.2 1172.1,813.5 1178.0,955.4 1184.0,884.4 1189.9,1090.2 1195.8,1076.0 1201.8,969.6 1207.7,1019.2 1213.7,763.8 1219.6,912.8 1225.5,1139.9 1231.5,820.6 1237.4,905.7 1243.4,1083.1 1249.3,593.5 1255.2,948.3 1261.2,763.8 1267.1,1026.3 1273.1,1033.4 1279.0,650.3 1284.9,1083.1 1290.9,1005.1 1296.8,962.5 1302.8,849.0 1308.7,969.6 1314.6,749.6 1320.6,898.6 1326.5,962.5 1332.5,685.8 1338.4,1012.2 1344.3,863.1 1350.3,1012.2 1356.2,934.1 1362.2,735.4 1368.1,820.6 1374.0,849.0 1380.0,1061.8 1385.9,1033.4 1391.9,834.8 1397.8,884.4 1403.7,891.5 1409.7,884.4 1415.6,763.8 1421.6,735.4 1427.5,898.6 1433.4,1068.9 1439.4,870.2 1445.3,1076.0 1451.3,898.6 1457.2,962.5 1463.1,877.3 1469.1,1154.1 1475.0,799.3 1481.0,1217.9 1486.9,813.5 1492.8,976.7 1498.8,1012.2 1504.7,721.2 1510.7,678.7 1516.6,785.1 1522.5,558.0 1528.5,1125.7 1534.4,998.0 1540.4,1012.2 1546.3,1246.3 1552.2,990.9 1558.2,990.9 1564.1,1054.7 1570.1,983.8 1576.0,692.8 1581.9,927.0 1587.9,1033.4 1593.8,877.3 1599.8,1125.7 1605.7,763.8 1611.6,941.2 1617.6,707.0 1623.5,849.0 1629.5,643.2 1635.4,827.7 1641.3,1019.2 1647.3,1203.7 1653.2,934.1 1659.2,962.5 1665.1,990.9 1671.0,927.0 1677.0,827.7 1682.9,1125.7 1688.9,1111.5 1694.8,480.0 1700.7,785.1 1706.7,976.7 1712.6,728.3 1718.6,756.7 1724.5,849.0 1730.4,891.5 1736.4,671.6 1742.3,1019.2 1748.3,1281.8 1754.2,927.0 1760.1,919.9 1766.1,856.0 1772.0,1083.1 1778.0,955.4 1783.9,806.4 1789.8,1076.0 1795.8,785.1 1801.7,778.0 1807.7,934.1 1813.6,1019.2 1819.5,856.0 1825.5,884.4 1831.4,969.6 1837.4,643.2 1843.3,1054.7 1849.2,863.1 1855.2,962.5 1861.1,891.5 1867.1,650.3 1873.0,1118.6 1878.9,863.1 1884.9,763.8 1890.8,841.9 1896.8,948.3 1902.7,1012.2 1908.6,742.5 1914.6,1019.2 1920.5,1196.6 1926.5,841.9 1932.4,983.8 1938.3,884.4 1944.3,990.9 1950.2,1083.1 1956.2,827.7 1962.1,778.0 1968.0,1033.4 1974.0,934.1 1979.9,841.9 1985.9,1253.4 1991.8,898.6 1997.7,983.8 2003.7,898.6 2009.6,898.6 2015.6,806.4 2021.5,1047.6 2027.4,983.8 2033.4,1033.4 2039.3,1033.4 2045.3,756.7 2051.2,593.5" fill="none" stroke="#ff0000" stroke-width="7" stroke-linejoin="round" stroke-linecap="butt"/>
<circle cx="275.1" cy="1068.9" r="8.9" fill="#ff0000"/>
<circle cx="281.1" cy="643.2" r="8.9" fill="#ff0000"/>
<circle cx="287.0" cy="927.0" r="8.9" fill="#ff0000"/>
<circle cx="293.0" cy="550.9" r="8.9" fill="#ff0000"/>
<circle cx="298.9" cy="1104.4" r="8.9" fill="#ff0000"/>
<circle cx="304.8" cy="934.1" r="8.9" fill="#ff0000"/>
<circle cx="310.8" cy="792.2" r="8.9" fill="#ff0000"/>
<circle cx="316.7" cy="799.3" r="8.9" fill="#ff0000"/>
<circle cx="322.7" cy="898.6" r="8.9" fill="#ff0000"/>
<circle cx="328.6" cy="742.5" r="8.9" fill="#ff0000"/>
<circle cx="334.5" cy="728.3" r="8.9" fill="#ff0000"/>
<circle cx="340.5" cy="1068.9" r="8.9" fill="#ff0000"/>
<circle cx="346.4" cy="891.5" r="8.9" fill="#ff0000"/>
<circle cx="352.4" cy="1097.3" r="8.9" fill="#ff0000"/>
<circle cx="358.3" cy="1068.9" r="8.9" fill="#ff0000"/>
<circle cx="364.2" cy="1161.2" r="8.9" fill="#ff0000"/>
<circle cx="370.2" cy="1225.0" r="8.9" fill="#ff0000"/>
<circle cx="376.1" cy="962.5" r="8.9" fill="#ff0000"/>
<circle cx="382.1" cy="955.4" r="8.9" fill="#ff0000"/>
<circle cx="388.0" cy="905.7" r="8.9" fill="#ff0000"/>
<circle cx="393.9" cy="962.5" r="8.9" fill="#ff0000"/>
<circle cx="399.9" cy="884.4" r="8.9" fill="#ff0000"/>
<circle cx="405.8" cy="912.8" r="8.9" fill="#ff0000"/>
<circle cx="411.8" cy="1161.2" r="8.9" fill="#ff0000"/>
<circle cx="417.7" cy="912.8" r="8.9" fill="#ff0000"/>
<circle cx="423.6" cy="1040.5" r="8.9" fill="#ff0000"/>
<circle cx="429.6" cy="820.6" r="8.9" fill="#ff0000"/>
<circle cx="435.5" cy="849.0" r="8.9" fill="#ff0000"/>
<circle cx="441.5" cy="983.8" r="8.9" fill="#ff0000"/>
<circle cx="447.4" cy="1005.1" r="8.9" fill="#ff0000"/>
<circle cx="453.3" cy="927.0" r="8.9" fill="#ff0000"/>
<circle cx="459.3" cy="749.6" r="8.9" fill="#ff0000"/>
<circle cx="465.2" cy="870.2" r="8.9" fill="#ff0000"/>
<circle cx="471.2" cy="955.4" r="8.9" fill="#ff0000"/>
<circle cx="477.1" cy="877.3" r="8.9" fill="#ff0000"/>
<circle cx="483.0" cy="934.1" r="8.9" fill="#ff0000"/>
<circle cx="489.0" cy="1047.6" r="8.9" fill="#ff0000"/>
<circle cx="494.9" cy="827.7" r="8.9" fill="#ff0000"/>
<circle cx="500.9" cy="834.8" r="8.9" fill="#ff0000"/>
<circle cx="506.8" cy="849.0" r="8.9" fill="#ff0000"/>
<circle cx="512.7" cy="856.0" r="8.9" fill="#ff0000"/>
<circle cx="518.7" cy="919.9" r="8.9" fill="#ff0000"/>
<circle cx="524.6" cy="983.8" r="8.9" fill="#ff0000"/>
<circle cx="530.6" cy="792.2" r="8.9" fill="#ff0000"/>
<circle cx="536.5" cy="983.8" r="8.9" fill="#ff0000"/>
<circle cx="542.4" cy="856.0" r="8.9" fill="#ff0000"/>
<circle cx="548.4" cy="1090.2" r="8.9" fill="#ff0000"/>
<circle cx="554.3" cy="983.8" r="8.9" fill="#ff0000"/>
<circle cx="560.3" cy="1175.3" r="8.9" fill="#ff0000"/>
<circle cx="566.2" cy="1026.3" r="8.9" fill="#ff0000"/>
<circle cx="572.1" cy="919.9" r="8.9" fill="#ff0000"/>
<circle cx="578.1" cy="1033.4" r="8.9" fill="#ff0000"/>
<circle cx="584.0" cy="919.9" r="8.9" fill="#ff0000"/>
<circle cx="590.0" cy="806.4" r="8.9" fill="#ff0000"/>
<circle cx="595.9" cy="948.3" r="8.9" fill="#ff0000"/>
<circle cx="601.8" cy="941.2" r="8.9" fill="#ff0000"/>
<circle cx="607.8" cy="849.0" r="8.9" fill="#ff0000"/>
<circle cx="613.7" cy="919.9" r="8.9" fill="#ff0000"/>
<circle cx="619.7" cy="1047.6" r="8.9" fill="#ff0000"/>
<circle cx="625.6" cy="941.2" r="8.9" fill="#ff0000"/>
<circle cx="631.5" cy="1033.4" r="8.9" fill="#ff0000"/>
<circle cx="637.5" cy="799.3" r="8.9" fill="#ff0000"/>
<circle cx="643.4" cy="983.8" r="8.9" fill="#ff0000"/>
<circle cx="649.4" cy="707.0" r="8.9" fill="#ff0000"/>
<circle cx="655.3" cy="891.5" r="8.9" fill="#ff0000"/>
<circle cx="661.2" cy="849.0" r="8.9" fill="#ff0000"/>
<circle cx="667.2" cy="969.6" r="8.9" fill="#ff0000"/>
<circle cx="673.1" cy="756.7" r="8.9" fill="#ff0000"/>
<circle cx="679.1" cy="1054.7" r="8.9" fill="#ff0000"/>
<circle cx="685.0" cy="1019.2" r="8.9" fill="#ff0000"/>
<circle cx="690.9" cy="778.0" r="8.9" fill="#ff0000"/>
<circle cx="696.9" cy="884.4" r="8.9" fill="#ff0000"/>
<circle cx="702.8" cy="990.9" r="8.9" fill="#ff0000"/>
<circle cx="708.8" cy="927.0" r="8.9" fill="#ff0000"/>
<circle cx="714.7" cy="856.0" r="8.9" fill="#ff0000"/>
<circle cx="720.6" cy="834.8" r="8.9" fill="#ff0000"/>
<circle cx="726.6" cy="721.2" r="8.9" fill="#ff0000"/>
<circle cx="732.5" cy="962.5" r="8.9" fill="#ff0000"/>
<circle cx="738.5" cy="671.6" r="8.9" fill="#ff0000"/>
<circle cx="744.4" cy="877.3" r="8.9" fill="#ff0000"/>
<circle cx="750.3" cy="856.0" r="8.9" fill="#ff0000"/>
<circle cx="756.3" cy="934.1" r="8.9" fill="#ff0000"/>
<circle cx="762.2" cy="1225.0" r="8.9" fill="#ff0000"/>
<circle cx="768.2" cy="877.3" r="8.9" fill="#ff0000"/>
<circle cx="774.1" cy="934.1" r="8.9" fill="#ff0000"/>
<circle cx="780.0" cy="834.8" r="8.9" fill="#ff0000"/>
<circle cx="786.0" cy="1005.1" r="8.9" fill="#ff0000"/>
<circle cx="791.9" cy="983.8" r="8.9" fill="#ff0000"/>
<circle cx="797.9" cy="1168.3" r="8.9" fill="#ff0000"/>
<circle cx="803.8" cy="841.9" r="8.9" fill="#ff0000"/>
<circle cx="809.7" cy="1118.6" r="8.9" fill="#ff0000"/>
<circle cx="815.7" cy="948.3" r="8.9" fill="#ff0000"/>
<circle cx="821.6" cy="976.7" r="8.9" fill="#ff0000"/>
<circle cx="827.6" cy="934.1" r="8.9" fill="#ff0000"/>
<circle cx="833.5" cy="1005.1" r="8.9" fill="#ff0000"/>
<circle cx="839.4" cy="820.6" r="8.9" fill="#ff0000"/>
<circle cx="845.4" cy="792.2" r="8.9" fill="#ff0000"/>
<circle cx="851.3" cy="1090.2" r="8.9" fill="#ff0000"/>
<circle cx="857.3" cy="1154.1" r="8.9" fill="#ff0000"/>
<circle cx="863.2" cy="870.2" r="8.9" fill="#ff0000"/>
<circle cx="869.1" cy="1189.5" r="8.9" fill="#ff0000"/>
<circle cx="875.1" cy="898.6" r="8.9" fill="#ff0000"/>
<circle cx="881.0" cy="1125.7" r="8.9" fill="#ff0000"/>
<circle cx="887.0" cy="1033.4" r="8.9" fill="#ff0000"/>
<circle cx="892.9" cy="912.8" r="8.9" fill="#ff0000"/>
<circle cx="898.8" cy="1019.2" r="8.9" fill="#ff0000"/>
<circle cx="904.8" cy="834.8" r="8.9" fill="#ff0000"/>
<circle cx="910.7" cy="912.8" r="8.9" fill="#ff0000"/>
<circle cx="916.7" cy="756.7" r="8.9" fill="#ff0000"/>
<circle cx="922.6" cy="1189.5" r="8.9" fill="#ff0000"/>
<circle cx="928.5" cy="948.3" r="8.9" fill="#ff0000"/>
<circle cx="934.5" cy="714.1" r="8.9" fill="#ff0000"/>
<circle cx="940.4" cy="990.9" r="8.9" fill="#ff0000"/>
<circle cx="946.4" cy="934.1" r="8.9" fill="#ff0000"/>
<circle cx="952.3" cy="898.6" r="8.9" fill="#ff0000"/>
<circle cx="958.2" cy="1232.1" r="8.9" fill="#ff0000"/>
<circle cx="964.2" cy="1061.8" r="8.9" fill="#ff0000"/>
<circle cx="970.1" cy="792.2" r="8.9" fill="#ff0000"/>
<circle cx="976.1" cy="820.6" r="8.9" fill="#ff0000"/>
<circle cx="982.0" cy="849.0" r="8.9" fill="#ff0000"/>
<circle cx="987.9" cy="813.5" r="8.9" fill="#ff0000"/>
<circle cx="993.9" cy="735.4" r="8.9" fill="#ff0000"/>
<circle cx="999.8" cy="1196.6" r="8.9" fill="#ff0000"/>
<circle cx="1005.8" cy="969.6" r="8.9" fill="#ff0000"/>
<circle cx="1011.7" cy="1033.4" r="8.9" fill="#ff0000"/>
<circle cx="1017.6" cy="657.4" r="8.9" fill="#ff0000"/>
<circle cx="1023.6" cy="990.9" r="8.9" fill="#ff0000"/>
<circle cx="1029.5" cy="841.9" r="8.9" fill="#ff0000"/>
<circle cx="1035.5" cy="990.9" r="8.9" fill="#ff0000"/>
<circle cx="1041.4" cy="919.9" r="8.9" fill="#ff0000"/>
<circle cx="1047.3" cy="884.4" r="8.9" fill="#ff0000"/>
<circle cx="1053.3" cy="1125.7" r="8.9" fill="#ff0000"/>
<circle cx="1059.2" cy="976.7" r="8.9" fill="#ff0000"/>
<circle cx="1065.2" cy="1040.5" r="8.9" fill="#ff0000"/>
<circle cx="1071.1" cy="600.6" r="8.9" fill="#ff0000"/>
<circle cx="1077.0" cy="770.9" r="8.9" fill="#ff0000"/>
<circle cx="1083.0" cy="813.5" r="8.9" fill="#ff0000"/>
<circle cx="1088.9" cy="1125.7" r="8.9" fill="#ff0000"/>
<circle cx="1094.9" cy="849.0" r="8.9" fill="#ff0000"/>
<circle cx="1100.8" cy="1147.0" r="8.9" fill="#ff0000"/>
<circle cx="1106.7" cy="607.7" r="8.9" fill="#ff0000"/>
<circle cx="1112.7" cy="799.3" r="8.9" fill="#ff0000"/>
<circle cx="1118.6" cy="884.4" r="8.9" fill="#ff0000"/>
<circle cx="1124.6" cy="1182.4" r="8.9" fill="#ff0000"/>
<circle cx="1130.5" cy="742.5" r="8.9" fill="#ff0000"/>
<circle cx="1136.4" cy="969.6" r="8.9" fill="#ff0000"/>
<circle cx="1142.4" cy="870.2" r="8.9" fill="#ff0000"/>
<circle cx="1148.3" cy="1196.6" r="8.9" fill="#ff0000"/>
<circle cx="1154.3" cy="643.2" r="8.9" fill="#ff0000"/>
<circle cx="1160.2" cy="863.1" r="8.9" fill="#ff0000"/>
<circle cx="1166.1" cy="1019.2" r="8.9" fill="#ff0000"/>
<circle cx="1172.1" cy="813.5" r="8.9" fill="#ff0000"/>
<circle cx="1178.0" cy="955.4" r="8.9" fill="#ff0000"/>
<circle cx="1184.0" cy="884.4" r="8.9" fill="#ff0000"/>
<circle cx="1189.9" cy="1090.2" r="8.9" fill="#ff0000"/>
<circle cx="1195.8" cy="1076.0" r="8.9" fill="#ff0000"/>
<circle cx="1201.8" cy="969.6" r="8.9" fill="#ff0000"/>
<circle cx="1207.7" cy="1019.2" r="8.9" fill="#ff0000"/>
<circle cx="1213.7" cy="763.8" r="8.9" fill="#ff0000"/>
<circle cx="1219.6" cy="912.8" r="8.9" fill="#ff0000"/>
<circle cx="1225.5" cy="1139.9" r="8.9" fill="#ff0000"/>
<circle cx="1231.5" cy="820.6" r="8.9" fill="#ff0000"/>
<circle cx="1237.4" cy="905.7" r="8.9" fill="#ff0000"/>
<circle cx="1243.4" cy="1083.1" r="8.9" fill="#ff0000"/>
<circle cx="1249.3" cy="593.5" r="8.9" fill="#ff0000"/>
<circle cx="1255.2" cy="948.3" r="8.9" fill="#ff0000"/>
<circle cx="1261.2" cy="763.8" r="8.9" fill="#ff0000"/>
<circle cx="1267.1" cy="1026.3" r="8.9" fill="#ff0000"/>
<circle cx="1273.1" cy="1033.4" r="8.9" fill="#ff0000"/>
<circle cx="1279.0" cy="650.3" r="8.9" fill="#ff0000"/>
<circle cx="1284.9" cy="1083.1" r="8.9" fill="#ff0000"/>
<circle cx="1290.9" cy="1005.1" r="8.9" fill="#ff0000"/>
<circle cx="1296.8" cy="962.5" r="8.9" fill="#ff0000"/>
<circle cx="1302.8" cy="849.0" r="8.9" fill="#ff0000"/>
<circle cx="1308.7" cy="969.6" r="8.9" fill="#ff0000"/>
<circle cx="1314.6" cy="749.6" r="8.9" fill="#ff0000"/>
<circle cx="1320.6" cy="898.6" r="8.9" fill="#ff0000"/>
<circle cx="1326.5" cy="962.5" r="8.9" fill="#ff0000"/>
<circle cx="1332.5" cy="685.8" r="8.9" fill="#ff0000"/>
<circle cx="1338.4" cy="1012.2" r="8.9" fill="#ff0000"/>
<circle cx="1344.3" cy="863.1" r="8.9" fill="#ff0000"/>
<circle cx="1350.3" cy="1012.2" r="8.9" fill="#ff0000"/>
<circle cx="1356.2" cy="934.1" r="8.9" fill="#ff0000"/>
<circle cx="1362.2" cy="735.4" r="8.9" fill="#ff0000"/>
<circle cx="1368.1" cy="820.6" r="8.9" fill="#ff0000"/>
<circle cx="1374.0" cy="849.0" r="8.9" fill="#ff0000"/>
<circle cx="1380.0" cy="1061.8" r="8.9" fill="#ff0000"/>
<circle cx="1385.9" cy="1033.4" r="8.9" fill="#ff0000"/>
<circle cx="1391.9" cy="834.8" r="8.9" fill="#ff0000"/>
<circle cx="1397.8" cy="884.4" r="8.9" fill="#ff0000"/>
<circle cx="1403.7" cy="891.5" r="8.9" fill="#ff0000"/>
<circle cx="1409.7" cy="884.4" r="8.9" fill="#ff0000"/>
<circle cx="1415.6" cy="763.8" r="8.9" fill="#ff0000"/>
<circle cx="1421.6" cy="735.4" r="8.9" fill="#ff0000"/>
<circle cx="1427.5" cy="898.6" r="8.9" fill="#ff0000"/>
<circle cx="1433.4" cy="1068.9" r="8.9" fill="#ff0000"/>
<circle cx="1439.4" cy="870.2" r="8.9" fill="#ff0000"/>
<circle cx="1445.3" cy="1076.0" r="8.9" fill="#ff0000"/>
<circle cx="1451.3" cy="898.6" r="8.9" fill="#ff0000"/>
<circle cx="1457.2" cy="962.5" r="8.9" fill="#ff0000"/>
<circle cx="1463.1" cy="877.3" r="8.9" fill="#ff0000"/>
<circle cx="1469.1" cy="1154.1" r="8.9" fill="#ff0000"/>
<circle cx="1475.0" cy="799.3" r="8.9" fill="#ff0000"/>
<circle cx="1481.0" cy="1217.9" r="8.9" fill="#ff0000"/>
<circle cx="1486.9" cy="813.5" r="8.9" fill="#ff0000"/>
<circle cx="1492.8" cy="976.7" r="8.9" fill="#ff0000"/>
<circle cx="1498.8" cy="1012.2" r="8.9" fill="#ff0000"/>
<circle cx="1504.7" cy="721.2" r="8.9" fill="#ff0000"/>
<circle cx="1510.7" cy="678.7" r="8.9" fill="#ff0000"/>
<circle cx="1516.6" cy="785.1" r="8.9" fill="#ff0000"/>
<circle cx="1522.5" cy="558.0" r="8.9" fill="#ff0000"/>
<circle cx="1528.5" cy="1125.7" r="8.9" fill="#ff0000"/>
<circle cx="1534.4" cy="998.0" r="8.9" fill="#ff0000"/>
<circle cx="1540.4" cy="1012.2" r="8.9" fill="#ff0000"/>
<circle cx="1546.3" cy="1246.3" r="8.9" fill="#ff0000"/>
<circle cx="1552.2" cy="990.9" r="8.9" fill="#ff0000"/>
<circle cx="1558.2" cy="990.9" r="8.9" fill="#ff0000"/>
<circle cx="1564.1" cy="1054.7" r="8.9" fill="#ff0000"/>
<circle cx="1570.1" cy="983.8" r="8.9" fill="#ff0000"/>
<circle cx="1576.0" cy="692.8" r="8.9" fill="#ff0000"/>
<circle cx="1581.9" cy="927.0" r="8.9" fill="#ff0000"/>
<circle cx="1587.9" cy="1033.4" r="8.9" fill="#ff0000"/>
<circle cx="1593.8" cy="877.3" r="8.9" fill="#ff0000"/>
<circle cx="1599.8" cy="1125.7" r="8.9" fill="#ff0000"/>
<circle cx="1605.7" cy="763.8" r="8.9" fill="#ff0000"/>
<circle cx="1611.6" cy="941.2" r="8.9" fill="#ff0000"/>
<circle cx="1617.6" cy="707.0" r="8.9" fill="#ff0000"/>
<circle cx="1623.5" cy="849.0" r="8.9" fill="#ff0000"/>
<circle cx="1629.5" cy="643.2" r="8.9" fill="#ff0000"/>
<circle cx="1635.4" cy="827.7" r="8.9" fill="#ff0000"/>
<circle cx="1641.3" cy="1019.2" r="8.9" fill="#ff0000"/>
<circle cx="1647.3" cy="1203.7" r="8.9" fill="#ff0000"/>
<circle cx="1653.2" cy="934.1" r="8.9" fill="#ff0000"/>
<circle cx="1659.2" cy="962.5" r="8.9" fill="#ff0000"/>
<circle cx="1665.1" cy="990.9" r="8.9" fill="#ff0000"/>
<circle cx="1671.0" cy="927.0" r="8.9" fill="#ff0000"/>
<circle cx="1677.0" cy="827.7" r="8.9" fill="#ff0000"/>
<circle cx="1682.9" cy="1125.7" r="8.9" fill="#ff0000"/>
<circle cx="1688.9" cy="1111.5" r="8.9" fill="#ff0000"/>
<circle cx="1694.8" cy="480.0" r="8.9" fill="#ff0000"/>
<circle cx="1700.7" cy="785.1" r="8.9" fill="#ff0000"/>
<circle cx="1706.7" cy="976.7" r="8.9" fill="#ff0000"/>
<circle cx="1712.6" cy="728.3" r="8.9" fill="#ff0000"/>
<circle cx="1718.6" cy="756.7" r="8.9" fill="#ff0000"/>
<circle cx="1724.5" cy="849.0" r="8.9" fill="#ff0000"/>
<circle cx="1730.4" cy="891.5" r="8.9" fill="#ff0000"/>
<circle cx="1736.4" cy="671.6" r="8.9" fill="#ff0000"/>
<circle cx="1742.3" cy="1019.2" r="8.9" fill="#ff0000"/>
<circle cx="1748.3" cy="1281.8" r="8.9" fill="#ff0000"/>
<circle cx="1754.2" cy="927.0" r="8.9" fill="#ff0000"/>
<circle cx="1760.1" cy="919.9" r="8.9" fill="#ff0000"/>
<circle cx="1766.1" cy="856.0" r="8.9" fill="#ff0000"/>
<circle cx="1772.0" cy="1083.1" r="8.9" fill="#ff0000"/>
<circle cx="1778.0" cy="955.4" r="8.9" fill="#ff0000"/>
<circle cx="1783.9" cy="806.4" r="8.9" fill="#ff0000"/>
<circle cx="1789.8" cy="1076.0" r="8.9" fill="#ff0000"/>
<circle cx="1795.8" cy="785.1" r="8.9" fill="#ff0000"/>
<circle cx="1801.7" cy="778.0" r="8.9" fill="#ff0000"/>
<circle cx="1807.7" cy="934.1" r="8.9" fill="#ff0000"/>
<circle cx="1813.6" cy="1019.2" r="8.9" fill="#ff0000"/>
<circle cx="1819.5" cy="856.0" r="8.9" fill="#ff0000"/>
<circle cx="1825.5" cy="884.4" r="8.9" fill="#ff0000"/>
<circle cx="1831.4" cy="969.6" r="8.9" fill="#ff0000"/>
<circle cx="1837.4" cy="643.2" r="8.9" fill="#ff0000"/>
<circle cx="1843.3" cy="1054.7" r="8.9" fill="#ff0000"/>
<circle cx="1849.2" cy="863.1" r="8.9" fill="#ff0000"/>
<circle cx="1855.2" cy="962.5" r="8.9" fill="#ff0000"/>
<circle cx="1861.1" cy="891.5" r="8.9" fill="#ff0000"/>
<circle cx="1867.1" cy="650.3" r="8.9" fill="#ff0000"/>
<circle cx="1873.0" cy="1118.6" r="8.9" fill="#ff0000"/>
<circle cx="1878.9" cy="863.1" r="8.9" fill="#ff0000"/>
<circle cx="1884.9" cy="763.8" r="8.9" fill="#ff0000"/>
<circle cx="1890.8" cy="841.9" r="8.9" fill="#ff0000"/>
<circle cx="1896.8" cy="948.3" r="8.9" fill="#ff0000"/>
<circle cx="1902.7" cy="1012.2" r="8.9" fill="#ff0000"/>
<circle cx="1908.6" cy="742.5" r="8.9" fill="#ff0000"/>
<circle cx="1914.6" cy="1019.2" r="8.9" fill="#ff0000"/>
<circle cx="1920.5" cy="1196.6" r="8.9" fill="#ff0000"/>
<circle cx="1926.5" cy="841.9" r="8.9" fill="#ff0000"/>
<circle cx="1932.4" cy="983.8" r="8.9" fill="#ff0000"/>
<circle cx="1938.3" cy="884.4" r="8.9" fill="#ff0000"/>
<circle cx="1944.3" cy="990.9" r="8.9" fill="#ff0000"/>
<circle cx="1950.2" cy="1083.1" r="8.9" fill="#ff0000"/>
<circle cx="1956.2" cy="827.7" r="8.9" fill="#ff0000"/>
<circle cx="1962.1" cy="778.0" r="8.9" fill="#ff0000"/>
<circle cx="1968.0" cy="1033.4" r="8.9" fill="#ff0000"/>
<circle cx="1974.0" cy="934.1" r="8.9" fill="#ff0000"/>
<circle cx="1979.9" cy="841.9" r="8.9" fill="#ff0000"/>
<circle cx="1985.9" cy="1253.4" r="8.9" fill="#ff0000"/>
<circle cx="1991.8" cy="898.6" r="8.9" fill="#ff0000"/>
<circle cx="1997.7" cy="983.8" r="8.9" fill="#ff0000"/>
<circle cx="2003.7" cy="898.6" r="8.9" fill="#ff0000"/>
<circle cx="2009.6" cy="898.6" r="8.9" fill="#ff0000"/>
<circle cx="2015.6" cy="806.4" r="8.9" fill="#ff0000"/>
<circle cx="2021.5" cy="1047.6" r="8.9" fill="#ff0000"/>
<circle cx="2027.4" cy="983.8" r="8.9" fill="#ff0000"/>
<circle cx="2033.4" cy="1033.4" r="8.9" fill="#ff0000"/>
<circle cx="2039.3" cy="1033.4" r="8.9" fill="#ff0000"/>
<circle cx="2045.3" cy="756.7" r="8.9" fill="#ff0000"/>
<circle cx="2051.2" cy="593.5" r="8.9" fill="#ff0000"/>
</g>
<rect x="269" y="58" width="1782" height="1406" fill="none" stroke="#262626" stroke-width="4"/>
<text transform="translate(268.8 1538.2) scale(1 1.05)" font-size="54.5" fill="#262626" text-anchor="middle">0</text>
<text transform="translate(565.8 1538.2) scale(1 1.05)" font-size="54.5" fill="#262626" text-anchor="middle">50</text>
<text transform="translate(862.8 1538.2) scale(1 1.05)" font-size="54.5" fill="#262626" text-anchor="middle">100</text>
<text transform="translate(1159.8 1538.2) scale(1 1.05)" font-size="54.5" fill="#262626" text-anchor="middle">150</text>
<text transform="translate(1456.8 1538.2) scale(1 1.05)" font-size="54.5" fill="#262626" text-anchor="middle">200</text>
<text transform="translate(1753.8 1538.2) scale(1 1.05)" font-size="54.5" fill="#262626" text-anchor="middle">250</text>
<text transform="translate(2050.8 1538.2) scale(1 1.05)" font-size="54.5" fill="#262626" text-anchor="middle">300</text>
<text transform="translate(246.5 1482.9) scale(1 1.05)" font-size="54.5" fill="#262626" text-anchor="end">0.11</text>
<text transform="translate(246.5 1248.6) scale(1 1.05)" font-size="54.5" fill="#262626" text-anchor="end">0.115</text>
<text transform="translate(246.5 1014.3) scale(1 1.05)" font-size="54.5" fill="#262626" text-anchor="end">0.12</text>
<text transform="translate(246.5 779.9) scale(1 1.05)" font-size="54.5" fill="#262626" text-anchor="end">0.125</text>
<text transform="translate(246.5 545.6) scale(1 1.05)" font-size="54.5" fill="#262626" text-anchor="end">0.13</text>
<text transform="translate(246.5 311.3) scale(1 1.05)" font-size="54.5" fill="#262626" text-anchor="end">0.135</text>
<text transform="translate(246.5 77.0) scale(1 1.05)" font-size="54.5" fill="#262626" text-anchor="end">0.14</text>
<text transform="translate(1158.9 1612.3) scale(1 1.03)" font-size="59.4" fill="#262626" text-anchor="middle">epoch</text>
<text transform="translate(79.2 759.6) rotate(-90) scale(1 1.05)" font-size="59.4" fill="#262626" text-anchor="middle">Recogintion accuracy</text>
<rect x="1634.2" y="89.1" width="387.7" height="137" fill="#fff" stroke="#262626" stroke-width="4"/>
<g><path d="M1650 126.5H1815" stroke="#0000ff" stroke-width="7" shape-rendering="crispEdges"/><circle cx="1733" cy="126.5" r="11.5" fill="#0000ff"/>
<path d="M1650 188.1H1815" stroke="#ff0000" stroke-width="6.5" shape-rendering="crispEdges"/><circle cx="1733" cy="188.1" r="8.8" fill="#ff0000"/></g>
<text x="1826.5" y="144" font-size="50" fill="#000" textLength="176.5" lengthAdjust="spacingAndGlyphs">Training</text>
<text x="1826.5" y="206" font-size="50" fill="#000" textLength="160" lengthAdjust="spacingAndGlyphs">Testing</text>
</svg></body></html>
